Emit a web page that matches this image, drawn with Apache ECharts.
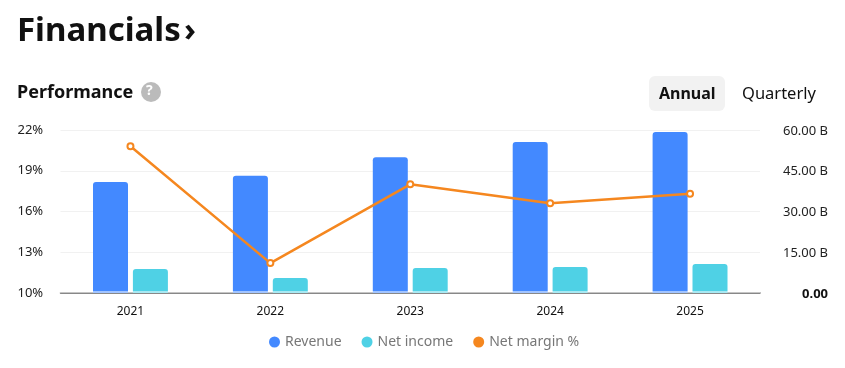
<!DOCTYPE html>
<html><head><meta charset="utf-8">
<style>html,body{margin:0;padding:0;background:#fff}#c{width:845px;height:368px}</style>
<script src="https://cdn.jsdelivr.net/npm/echarts@6/dist/echarts.min.js"></script>
</head><body><div id="c"></div>
<script>
const years = ['2021','2022','2023','2024','2025'];
const revenue = [40.9, 43.2, 50.0, 55.6, 59.3];
const netIncome = [8.8, 5.5, 9.2, 9.6, 10.7];
const netMargin = [20.8, 12.2, 18.0, 16.6, 17.3];
const leftTicks = {10:'10%',13:'13%',16:'16%',19:'19%',22:'22%'};
const rightTicks = {0:'{b|0.00}',15:'15.00 B',30:'30.00 B',45:'45.00 B',60:'60.00 B'};
const font = '"Noto Sans", sans-serif';
const chart = echarts.init(document.getElementById('c'), null, {renderer:'canvas'});
chart.setOption({
  animation:false,
  textStyle:{fontFamily:font},
  grid:{left:60.5,right:85,top:130,bottom:75},
  legend:{bottom:14,left:264,icon:'circle',itemWidth:11,itemHeight:11,itemGap:20,
    textStyle:{color:'#777',fontSize:14,fontFamily:font},
    data:[
      {name:'Revenue',itemStyle:{color:'#4389ff'}},
      {name:'Net income',itemStyle:{color:'#4fd1e5'}},
      {name:'Net margin %',icon:'circle',itemStyle:{color:'#f5871f',borderWidth:0}}
    ]},
  xAxis:{type:'category',data:years,axisTick:{show:false},
    axisLine:{lineStyle:{color:'#666',width:1.5}},
    axisLabel:{color:'#111',fontSize:12,margin:13,fontFamily:font}},
  yAxis:[
    {type:'value',min:10,max:22,interval:3,position:'left',
     splitLine:{lineStyle:{color:'#f1f1f1'}},axisLine:{show:false},axisTick:{show:false},
     axisLabel:{color:'#222',fontSize:13,align:'left',margin:43,padding:[2,0,0,0],fontFamily:font,formatter:v=>leftTicks[v]}},
    {type:'value',min:0,max:60,interval:15,position:'right',
     splitLine:{show:false},axisLine:{show:false},axisTick:{show:false},
     axisLabel:{color:'#222',fontSize:13,align:'right',margin:68,padding:[2,0,0,0],fontFamily:font,
       formatter:v=>rightTicks[v],rich:{b:{fontWeight:'bold',color:'#111',fontSize:13,fontFamily:font}}}}
  ],
  series:[
    {name:'Revenue',type:'bar',yAxisIndex:1,data:revenue,barWidth:35,barGap:'14%',
     itemStyle:{color:'#4389ff',borderRadius:[3,3,0,0]}},
    {name:'Net income',type:'bar',yAxisIndex:1,data:netIncome,barWidth:35,
     itemStyle:{color:'#4fd1e5',borderRadius:[3,3,0,0]}},
    {name:'Net margin %',type:'line',yAxisIndex:0,data:netMargin,symbol:'circle',symbolSize:6,
     showSymbol:true,z:5,
     lineStyle:{color:'#f5871f',width:2.5},
     itemStyle:{color:'#ffffff',borderColor:'#f5871f',borderWidth:2},
     emphasis:{disabled:true}}
  ],
  graphic:[
    {type:'text',left:17,top:15,style:{text:'Financials',font:'bold 33px '+font,fill:'#111'}},
    {type:'text',left:184,top:15,style:{text:'›',font:'bold 33px '+font,fill:'#111'}},
    {type:'text',left:17,top:84,style:{text:'Performance',font:'bold 18px '+font,fill:'#111'}},
    {type:'circle',shape:{cx:151,cy:92,r:10},style:{fill:'#bbbbbb'}},
    {type:'text',left:146,top:84,style:{text:'?',font:'bold 14px '+font,fill:'#fff'}},
    {type:'rect',shape:{x:649,y:76,width:76,height:35,r:6},style:{fill:'#f2f2f2'}},
    {type:'text',left:659,top:86,style:{text:'Annual',font:'bold 16px '+font,fill:'#111'}},
    {type:'text',left:742,top:86,style:{text:'Quarterly',font:'16.5px '+font,fill:'#111'}},
    {type:'rect',z:3,shape:{x:60,y:291.6,width:700,height:1},style:{fill:'#fff'}}
  ]
});
</script></body></html>
